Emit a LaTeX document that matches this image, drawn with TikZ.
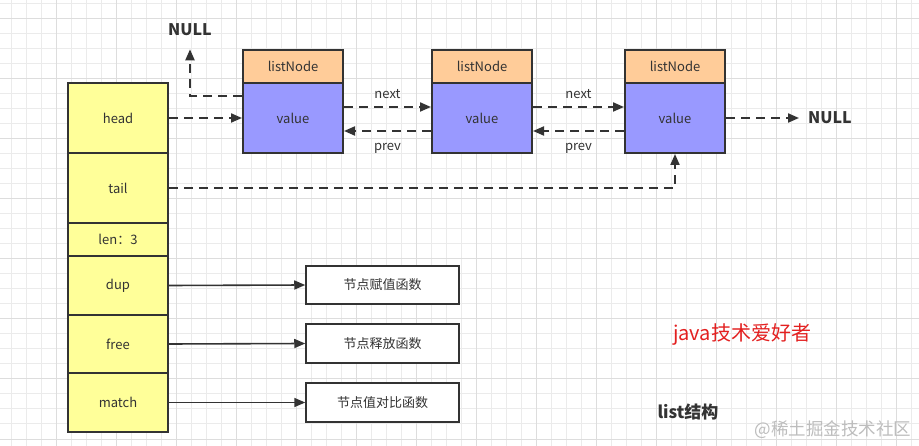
\documentclass[tikz,border=0pt]{standalone}
\usepackage{fontspec}
\setmainfont{Noto Sans CJK SC}
\usetikzlibrary{arrows.meta}
\definecolor{ink}{HTML}{333333}
\definecolor{yel}{HTML}{FFFF99}
\definecolor{ora}{HTML}{FFCC99}
\definecolor{blu}{HTML}{9999FF}
\definecolor{gminor}{HTML}{EBEBEB}
\definecolor{gmajor}{HTML}{DDDDDD}
\definecolor{redtxt}{HTML}{E32020}
\definecolor{wmgray}{HTML}{BDBDBD}
\tikzset{
  txt/.style={font=\fontsize{13}{15}\selectfont, text=ink},
  cell/.style={draw=ink, line width=2pt, fill=yel, txt, minimum width=100pt, inner sep=0pt},
  headbox/.style={draw=ink, line width=2pt, fill=ora, txt, minimum width=100pt, minimum height=33pt, inner sep=0pt},
  valbox/.style={draw=ink, line width=2pt, fill=blu, txt, minimum width=100pt, minimum height=70pt, inner sep=0pt},
  funbox/.style={draw=ink, line width=1.5pt, fill=white, txt, minimum width=153pt, inner sep=0pt},
  darr/.style={draw=ink, line width=2pt, dash pattern=on 9pt off 6pt, -{Triangle[length=11pt,width=9pt]}},
  sarr/.style={draw=ink, line width=1.6pt, -{Triangle[length=11pt,width=9pt]}},
  nulltxt/.style={font=\bfseries\fontsize{16}{18}\selectfont, text=ink, inner sep=0pt},
  lbl/.style={txt, inner sep=0pt},
}
\begin{document}
\begin{tikzpicture}[x=1pt,y=-1pt]
\useasboundingbox (0,0) rectangle (919,446);
\fill[white] (0,0) rectangle (919,446);
% grid
\foreach \x in {11,26,...,911} \draw[gminor, line width=1pt] (\x,0) -- (\x,446);
\foreach \y in {4,19,...,444} \draw[gminor, line width=1pt] (0,\y) -- (919,\y);
\foreach \x in {56,116,...,896} \draw[gmajor, line width=1pt] (\x,0) -- (\x,446);
\foreach \y in {19,79,...,439} \draw[gmajor, line width=1pt] (0,\y) -- (919,\y);

% struct cells
\node[cell, minimum height=70pt] (head) at (118,118) {head};
\node[cell, minimum height=70pt] (tail) at (118,188) {tail};
\node[cell, minimum height=33pt] (len) at (118,239.5) {len：3};
\node[cell, minimum height=59pt] (dup) at (118,285.5) {dup};
\node[cell, minimum height=58pt] (free) at (118,344) {free};
\node[cell, minimum height=59pt] (match) at (118,402.5) {match};

% list nodes
\node[headbox] (n1h) at (293,66.5) {listNode};
\node[valbox] (n1v) at (293,118) {value};
\node[headbox] (n2h) at (482,66.5) {listNode};
\node[valbox] (n2v) at (482,118) {value};
\node[headbox] (n3h) at (675,66.5) {listNode};
\node[valbox] (n3v) at (675,118) {value};

% NULL nodes
\node[nulltxt] (null1) at (190,30) {NULL};
\node[nulltxt] (null2) at (830,118) {NULL};

% function boxes
\node[funbox, minimum height=38pt] (fdup) at (382.5,285) {节点赋值函数};
\node[funbox, minimum height=39pt] (ffree) at (382.5,343.5) {节点释放函数};
\node[funbox, minimum height=39pt] (fmatch) at (382.5,402.5) {节点值对比函数};

% connectors
\draw[darr] (head.east) -- (n1v.west);
\draw[darr, shorten >=13pt] ([yshift=22pt]n1v.west) -| (null1.south);
\draw[darr] ([yshift=11pt]n1v.east) -- node[lbl, above=7pt] {next} ([yshift=11pt]n2v.west);
\draw[darr] ([yshift=-13pt]n2v.west) -- node[lbl, below=11pt] {prev} ([yshift=-13pt]n1v.east);
\draw[darr] ([yshift=11pt]n2v.east) -- node[lbl, above=7pt] {next} ([yshift=11pt]n3v.west);
\draw[darr] ([yshift=-13pt]n3v.west) -- node[lbl, below=11pt] {prev} ([yshift=-13pt]n2v.east);
\draw[darr] (n3v.east) -- ([xshift=-9pt]null2.west);
\draw[darr] (tail.east) -| (n3v.south);
\draw[sarr] (dup.east) -- (fdup.west);
\draw[sarr] (free.east) -- (ffree.west);
\draw[sarr] (match.east) -- (fmatch.west);

% free texts
\node[font=\fontsize{20}{23}\selectfont, text=redtxt, inner sep=0pt] (brand) at (742,335) {java技术爱好者};
\node[font=\bfseries\fontsize{17}{20}\selectfont, text=ink, inner sep=0pt] (title) at (688,412) {list结构};
\node[font=\fontsize{17.5}{20}\selectfont, text=wmgray, inner sep=0pt] (wm) at (833,430) {@稀土掘金技术社区};
\end{tikzpicture}
\end{document}
